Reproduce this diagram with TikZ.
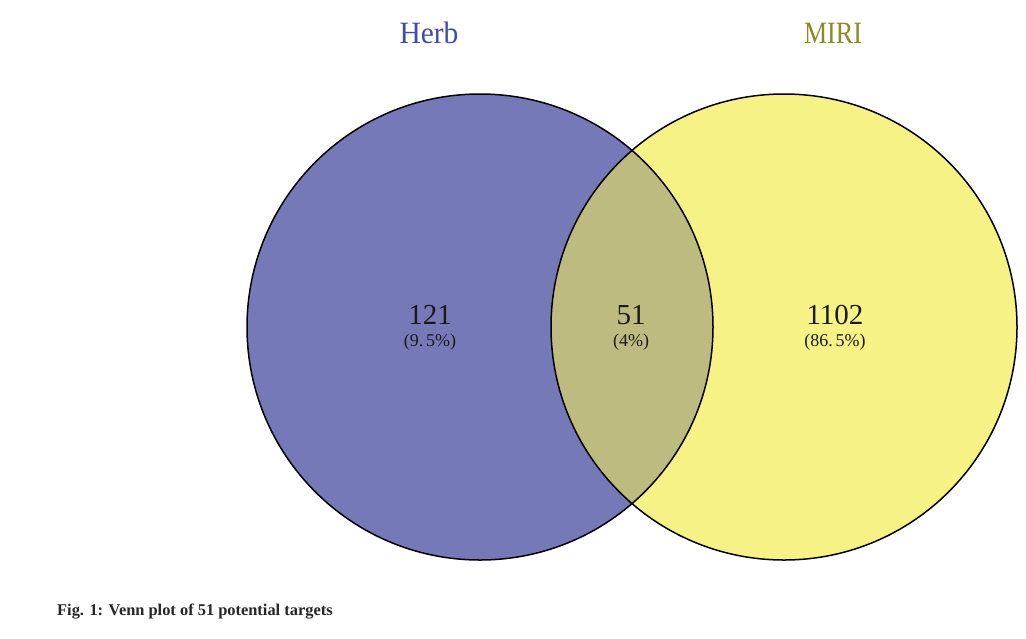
\documentclass[tikz,border=0pt]{standalone}
\usepackage{fontspec}
\usepackage{graphicx}
\setmainfont{Liberation Serif}
\definecolor{herbfill}{HTML}{7579B8}
\definecolor{mirifill}{HTML}{F7F285}
\definecolor{overlap}{HTML}{BDBB7F}
\definecolor{herbtext}{HTML}{3F4CAB}
\definecolor{miritext}{HTML}{8A8A26}
\definecolor{numtext}{HTML}{1A1A1A}
\begin{document}
\begin{tikzpicture}[x=1pt,y=-1pt,
  setlabel/.style={font=\fontsize{31}{33}\selectfont, inner sep=0pt},
  countlabel/.style={font=\fontsize{29}{31}\selectfont, text=numtext, inner sep=0pt},
  pctlabel/.style={font=\fontsize{18}{20}\selectfont, text=numtext, inner sep=0pt},
  circ/.style={draw=black, line width=1.5pt}]
\useasboundingbox (0,0) rectangle (1026,638);
\fill[white] (0,0) rectangle (1026,638);
\coordinate (c1) at (480,327);
\coordinate (c2) at (784,327);
\fill[herbfill] (c1) circle (233);
\fill[mirifill] (c2) circle (233);
\begin{scope}
  \clip (c1) circle (233);
  \fill[overlap] (c2) circle (233);
\end{scope}
\draw[circ] (c1) circle (233);
\draw[circ] (c2) circle (233);
\node[setlabel, text=herbtext] (herb) at (429,33) {\scalebox{0.95}[1]{Herb}};
\node[setlabel, text=miritext] (miri) at (833,33) {\scalebox{0.84}[1]{MIRI}};
\node[countlabel] (n1) at (430,315) {121};
\node[pctlabel] (p1) at (430,342) {(9.\,5\%)};
\node[countlabel] (n2) at (631,315) {51};
\node[pctlabel] (p2) at (631,342) {(4\%)};
\node[countlabel] (n3) at (835,315) {1102};
\node[pctlabel] (p3) at (835,342) {(86.\,5\%)};
\node[anchor=west, font=\bfseries\fontsize{16.4}{18}\selectfont, text=black!85, inner sep=0pt] (cap) at (57,612) {Fig. 1: Venn plot of 51 potential targets};
\end{tikzpicture}
\end{document}
